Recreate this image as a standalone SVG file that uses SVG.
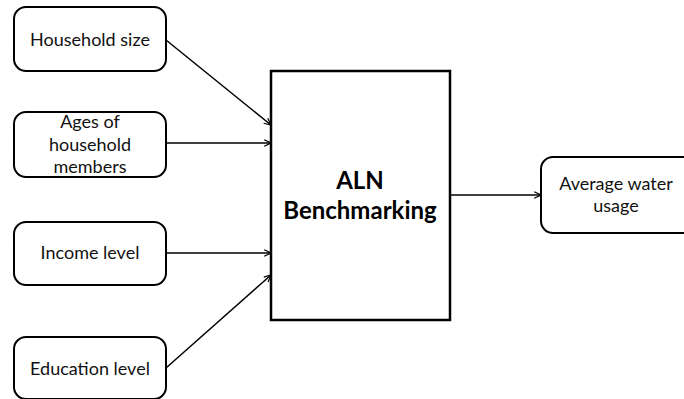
<svg xmlns="http://www.w3.org/2000/svg" width="684" height="399" viewBox="0 0 684 399">
<defs>
<style>
.box{fill:#fff;stroke:#000;stroke-width:2}
.main{fill:#fff;stroke:#000;stroke-width:2.5}
.t{font-family:Lato,"Open Sans","Liberation Sans",sans-serif;font-size:18px;fill:#111;text-anchor:middle}
.b{font-family:Lato,"Open Sans","Liberation Sans",sans-serif;font-size:24px;font-weight:bold;fill:#000;text-anchor:middle}
.c{stroke:#000;stroke-width:1.5;fill:none;marker-end:url(#ah)}
</style>
<marker id="ah" viewBox="0 0 10 10" refX="9.5" refY="5" markerWidth="8" markerHeight="8" markerUnits="userSpaceOnUse" orient="auto">
<path d="M1,1 L9.5,5 L1,9" fill="none" stroke="#000" stroke-width="1.5"/>
</marker>
</defs>
<rect width="684" height="399" fill="#fff"/>
<g id="connectors">
<line class="c" x1="166" y1="40" x2="271" y2="125"/>
<line class="c" x1="166" y1="143" x2="271" y2="143"/>
<line class="c" x1="166" y1="253" x2="271" y2="253"/>
<line class="c" x1="166" y1="368" x2="271" y2="275"/>
<line class="c" x1="450" y1="195" x2="541" y2="195"/>
</g>
<g id="household-size">
<rect class="box" x="14" y="7" width="152" height="64" rx="12"/>
<text class="t" x="90" y="46">Household size</text>
</g>
<g id="ages">
<rect class="box" x="14" y="112" width="152" height="65" rx="12"/>
<text class="t" x="90" y="128">Ages of</text>
<text class="t" x="90" y="151">household</text>
<text class="t" x="90" y="173">members</text>
</g>
<g id="income">
<rect class="box" x="14" y="222" width="152" height="63" rx="12"/>
<text class="t" x="90" y="259">Income level</text>
</g>
<g id="education">
<rect class="box" x="14" y="337" width="152" height="62" rx="12"/>
<text class="t" x="90" y="375">Education level</text>
</g>
<g id="aln">
<rect class="main" x="271" y="71" width="179" height="249"/>
<text class="b" x="360" y="189">ALN</text>
<text class="b" x="360" y="219">Benchmarking</text>
</g>
<g id="output">
<rect class="box" x="541" y="157" width="160" height="76" rx="12"/>
<text class="t" x="616" y="190">Average water</text>
<text class="t" x="616" y="212">usage</text>
</g>
</svg>
